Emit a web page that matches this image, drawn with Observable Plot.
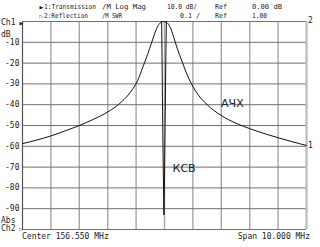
<!DOCTYPE html>
<html><head><meta charset="utf-8">
<script src="https://cdn.jsdelivr.net/npm/d3@7"></script>
<script src="https://cdn.jsdelivr.net/npm/@observablehq/plot@0.6"></script>
<style>
html,body{margin:0;padding:0;background:#fff;}
#chart{position:relative;width:320px;height:247px;}
</style>
</head><body>
<div id="chart"></div>
<script>
// Transmission (АЧХ), dB
const freqMHz = [151.55,152.05,152.55,153.05,153.55,154.05,154.55,155.05,155.35,155.6,155.8,155.95,156.1,156.2,156.3,156.4,156.45,156.5,156.53,156.56,156.6,156.65,156.75,156.85,157.0,157.15,157.3,157.5,157.75,158.05,158.55,159.05,159.55,160.05,160.55,161.05,161.55];
const transDb = [-58.7,-57.0,-55.0,-52.6,-50.0,-47.0,-43.5,-38.5,-34.0,-28.5,-21.5,-16,-10,-6,-2.6,-0.7,-0.25,0,0,-0.1,-0.3,-0.7,-2.8,-6.5,-13,-18.5,-24,-30,-35.5,-40,-45.2,-48.8,-51.5,-53.8,-55.9,-57.8,-59.6];
// Reflection (КСВ), SWR
const swrFreq = [156.35,156.45,156.48,156.505,156.53,156.55,156.57,156.60,156.62,156.75];
const swrVal  = [2.6,2.0,1.6,1.3,1.07,1.25,1.5,1.85,2.05,2.8];
// grid / tick values
const freqGrid = [151.55,152.55,153.55,154.55,155.55,156.55,157.55,158.55,159.55,160.55,161.55];
const dbGrid = [0,-10,-20,-30,-40,-50,-60,-70,-80,-90,-100];
const dbLabels = [-10,-20,-30,-40,-50,-60,-70,-80,-90];

const trans = freqMHz.map((f,i)=>({f, db: transDb[i]}));
const swr = swrFreq.map((f,i)=>({f, swr: swrVal[i]}));
const swrToY = s => (s - 1) * 100 - 100; // Ref 1.00 at bottom, 0.1/div

const plot = Plot.plot({
  width: 320, height: 247,
  marginLeft: 22, marginRight: 14, marginTop: 21, marginBottom: 18,
  x: {domain: [151.55, 161.55], axis: null, label: null},
  y: {domain: [-100, 0], axis: null, label: null},
  style: {fontFamily: "'DejaVu Sans Mono', monospace", fontSize: "8px", background: "#fff", color: "#222"},
  marks: [
    Plot.ruleX(freqGrid, {stroke: "#a6a6a6", strokeWidth: 1.4}),
    Plot.ruleY(dbGrid, {stroke: "#707070", strokeWidth: 1}),
    Plot.ruleX([151.55], {stroke: "#555", strokeWidth: 1}),
    Plot.ruleX([161.55], {stroke: "#bdbdbd", strokeWidth: 2}),
    Plot.axisY(dbLabels, {tickSize: 0, tickPadding: 3, tickFormat: d => String(d), fontSize: 8, fill: "#222", label: null}),
    Plot.line(swr, {x: "f", y: d => swrToY(d.swr), stroke: "#111", strokeWidth: 1, clip: true}),
    Plot.line(trans, {x: "f", y: "db", stroke: "#111", strokeWidth: 1, curve: "monotone-x"}),
    Plot.text(["АЧХ"], {x: 158.94, y: -39.4, text: d => d, fontFamily: "'DejaVu Sans', sans-serif", fontSize: 11, letterSpacing: "1.5px", fill: "#222"}),
    Plot.text(["КСВ"], {x: 157.24, y: -70.7, text: d => d, fontFamily: "'DejaVu Sans', sans-serif", fontSize: 11, letterSpacing: "1.5px", fill: "#222"})
  ]
});
document.getElementById("chart").appendChild(plot);

// instrument annotations
const svg = d3.select(plot);
const g = svg.append("g").attr("font-family", "'DejaVu Sans Mono', monospace").attr("fill", "#222").attr("text-anchor", "start");
const header = [
  ["1:Transmission", 44, 9, 52], ["/M Log Mag", 102, 9, 44], ["10.0 dB/", 167, 9, 30], ["Ref", 215, 9, 12], ["0.00 dB", 252, 9, 30],
  ["2:Reflection", 44, 18, 44], ["/M SWR", 102, 18, 20], ["0.1 /", 180, 18, 20], ["Ref", 215, 18, 12], ["1.00", 252, 18, 15]
];
header.forEach(([t, x, y, w]) => {
  g.append("text").attr("x", x).attr("y", y).attr("font-size", 6.9).attr("text-anchor", "start")
    .attr("textLength", w).attr("lengthAdjust", "spacingAndGlyphs").text(t);
});
const marks = [["▶", 39.5, 8.5], ["▷", 39.5, 17.5], ["▶", 19.5, 24.5], ["▷", 19.5, 230.5]];
marks.forEach(([t, x, y]) => {
  g.append("text").attr("x", x).attr("y", y).attr("font-size", 5).attr("text-anchor", "start")
    .attr("font-family", "'DejaVu Sans', sans-serif").text(t);
});
const side = [
  ["Ch1", 1, 25, "start"], ["dB", 1, 37, "start"],
  ["Abs", 1, 223, "start"], ["Ch2", 1, 231, "start"],
  ["2", 308, 23, "start"], ["1", 308, 148, "start"],
  ["Center 156.550 MHz", 22, 239, "start"], ["Span 10.000 MHz", 310, 239, "end"]
];
side.forEach(([t, x, y, a]) => {
  g.append("text").attr("x", x).attr("y", y).attr("font-size", 8).attr("text-anchor", a).text(t);
});
</script>
</body></html>
